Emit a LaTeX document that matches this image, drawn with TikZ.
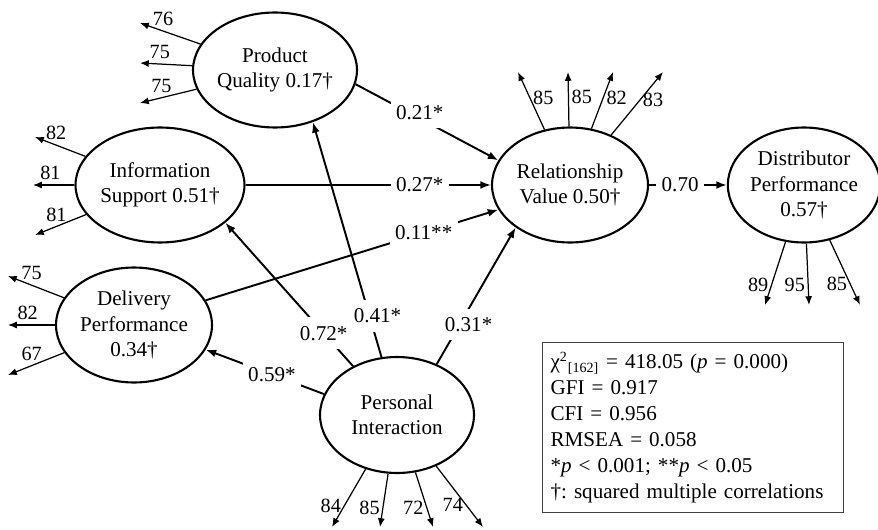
\documentclass[tikz,border=0pt]{standalone}
\usepackage{fontspec}
\setmainfont{Liberation Serif}
\usetikzlibrary{shapes,arrows.meta,positioning}
\frenchspacing

\begin{document}
\begin{tikzpicture}[x=0.02cm, y=-0.02cm,
  lat/.style={draw, ellipse, line width=1.2pt, inner sep=0pt, minimum width=3.12cm, minimum height=2.3cm, align=center, font=\fontsize{12}{14.5}\selectfont},
  pth/.style={line width=1.1pt, -{Latex[length=6pt,width=4.5pt]}},
  ind/.style={line width=0.7pt, -{Latex[length=5pt,width=4pt]}},
  coef/.style={fill=white, inner xsep=3pt, inner ysep=5pt, font=\fontsize{12}{14.5}\selectfont},
  num/.style={inner sep=1.5pt, font=\fontsize{11.5}{13}\selectfont}
]
\useasboundingbox (0,0) rectangle (878,530);

% latent variables
\node[lat] (pq) at (275,70) {Product\\Quality 0.17†};
\node[lat] (is) at (160,185) {Information\\Support 0.51†};
\node[lat] (dlv) at (134,325) {Delivery\\Performance\\0.34†};
\node[lat, minimum width=3.08cm, minimum height=2.32cm] (pi) at (397,415) {Personal\\Interaction};
\node[lat] (rv) at (570,185) {Relationship\\Value 0.50†};
\node[lat, minimum width=2.96cm] (dp) at (804,185) {Distributor\\Performance\\0.57†};

% fit indices
\node[draw=black!75, line width=0.8pt, anchor=north west, text width=5.7cm, minimum height=3.4cm, inner xsep=4.5pt, align=left, font=\fontsize{12}{14.8}\selectfont] (stats) at (542,342)
  {χ\textsuperscript{2}\textsubscript{[162]} = 418.05 (\textit{p} = 0.000)\\
   GFI = 0.917\\
   CFI = 0.956\\
   RMSEA = 0.058\\
   {*}\textit{p} < 0.001; **\textit{p} < 0.05\\
   †: squared multiple correlations};

% structural paths
\draw[pth] (pq.350) -- (rv.161) node[coef, pos=0.45, yshift=0.12cm] {0.21*};
\draw[pth] (is) -- (rv) node[coef, pos=0.71] {0.27*};
\draw[pth] (dlv.19) -- (rv.199) node[coef, pos=0.745] {0.11**};
\draw[pth] (rv) -- (dp) node[coef, pos=0.4] {0.70};
\draw[pth] (pi.105) -- (pq.306) node[coef, pos=0.175, xshift=0.16cm] {0.41*};
\draw[pth] (pi.132) -- (is.330) node[coef, pos=0.23] {0.72*};
\draw[pth] (pi.52) -- (rv.218) node[coef, pos=0.29, xshift=0.18cm] {0.31*};
\draw[pth] (pi.164) -- (dlv.341) node[coef, pos=0.44] {0.59*};

% indicators
\foreach \i/\x/\y/\v in {1/140/23/76, 2/140/63/75, 3/140/103/75}{
  \coordinate (pq\i) at (\x,\y);
  \draw[ind] (pq) -- (pq\i) node[num, pos=0.62, above=1pt] {\v};
}
\foreach \i/\x/\y/\v in {1/35/137/82, 2/33/185/81, 3/35/235/81}{
  \coordinate (is\i) at (\x,\y);
  \draw[ind] (is) -- (is\i) node[num, pos=0.58, above=1pt] {\v};
}
\foreach \i/\x/\y/\v in {1/8/276/75, 2/8/325/82, 3/8/375/67}{
  \coordinate (dlv\i) at (\x,\y);
  \draw[ind] (dlv) -- (dlv\i) node[num, pos=0.58, above=1pt] {\v};
}
\foreach \i/\x/\y/\v in {1/518/72/85, 2/568/72/85, 3/613/72/82, 4/663/72/83}{
  \coordinate (rv\i) at (\x,\y);
  \draw[ind] (rv) -- (rv\i) node[num, pos=0.55, right] {\v};
}
\foreach \i/\x/\y/\v in {1/765/305/89, 2/809/305/95, 3/860/305/85}{
  \coordinate (dp\i) at (\x,\y);
  \draw[ind] (dp) -- (dp\i) node[num, pos=0.68, left] {\v};
}
\foreach \i/\x/\y/\v in {1/332/527/84, 2/380/527/85, 3/433/527/72, 4/483/527/74}{
  \coordinate (pi\i) at (\x,\y);
  \draw[ind] (pi) -- (pi\i) node[num, pos=0.64, left] {\v};
}
\end{tikzpicture}
\end{document}
